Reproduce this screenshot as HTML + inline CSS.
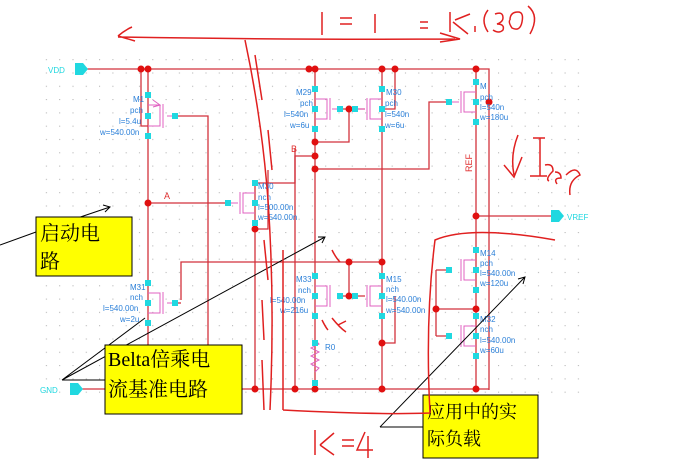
<!DOCTYPE html>
<html><head><meta charset="utf-8"><style>
html,body{margin:0;padding:0;background:#fff;width:683px;height:470px;overflow:hidden}
svg{display:block}
.t{font-family:"Liberation Sans",sans-serif;font-size:8px;fill:#2a7fd8}
.c{font-family:"Liberation Serif","Noto Serif CJK SC",serif;font-size:20px;fill:#000}
.h{font-family:"Liberation Sans",sans-serif;fill:none;stroke:#e02020;stroke-width:1.5}
</style></head><body>
<svg width="683" height="470" viewBox="0 0 683 470" xmlns="http://www.w3.org/2000/svg">
<defs><pattern id="g" width="13.3" height="13.3" patternUnits="userSpaceOnUse"><rect x="6" y="6" width="1" height="1" fill="#aaa"/></pattern></defs>
<rect x="40" y="55" width="550" height="345" fill="url(#g)"/>
<g stroke="#d2323c" stroke-width="1.3" fill="none">
<path d="M87 69H489V390"/><path d="M80 389H489"/>
<path d="M141 69V126H148M148 69V390"/>
<path d="M175 116H208V350"/>
<path d="M148 203H228"/>
<path d="M255 183V229H268V170M295 148V183H255"/>
<path d="M255 229V389"/>
<path d="M315 69V390M382 69V390M395 69V109H382"/>
<path d="M315 156H295V389"/>
<path d="M315 142H349V109H365M340 109H349"/>
<path d="M315 169H429V102H449"/>
<path d="M476 69V390M476 216H553"/>
<path d="M181 300V262H382M349 262V296H365M340 296H349"/>
<path d="M175 303H181"/>
<path d="M436 270V336M436 309H476M436 270H449M436 336H449"/>
<path d="M395 296V343H382"/>
</g>
<g stroke="#e060c0" stroke-width="1" fill="none">
<path d="M148 105H160V126H148M163 104V128M167 116H175M153 100l7 5-7 2"/>
<path d="M255 193H243V213H255M240 192V214M228 203H238"/>
<path d="M315 99H327V119H315M330 98V120M340 109H332"/>
<path d="M382 99H370V119H382M367 98V120M349 109H365"/>
<path d="M476 92H464V112H476M461 91V113M449 102H459"/>
<path d="M148 293H160V313H148M163 292V314M167 303H175"/>
<path d="M315 286H327V306H315M330 285V307"/>
<path d="M382 286H370V306H382M367 285V307"/>
<path d="M476 260H464V280H476M461 259V281"/>
<path d="M476 326H464V346H476M461 325V347"/>
<path d="M315 340l4 4-8 4 8 4-8 4 8 4-8 4 8 4-4 4"/>
</g>
<g fill="#e01010">
<circle cx="141" cy="69" r="3.5"/><circle cx="148" cy="69" r="3.5"/><circle cx="309" cy="69" r="3.5"/><circle cx="315" cy="69" r="3.5"/><circle cx="382" cy="69" r="3.5"/><circle cx="395" cy="69" r="3.5"/><circle cx="476" cy="69" r="3.5"/>
<circle cx="148" cy="203" r="3.5"/><circle cx="255" cy="229" r="3.5"/><circle cx="315" cy="142" r="3.5"/><circle cx="315" cy="156" r="3.5"/><circle cx="315" cy="169" r="3.5"/><circle cx="349" cy="109" r="3.5"/><circle cx="489" cy="102" r="3.5"/><circle cx="476" cy="216" r="3.5"/>
<circle cx="255" cy="389" r="3.5"/><circle cx="295" cy="389" r="3.5"/><circle cx="315" cy="389" r="3.5"/><circle cx="382" cy="389" r="3.5"/><circle cx="476" cy="389" r="3.5"/>
<circle cx="349" cy="262" r="3.5"/><circle cx="382" cy="262" r="3.5"/><circle cx="349" cy="296" r="3.5"/><circle cx="382" cy="343" r="3.5"/><circle cx="436" cy="309" r="3.5"/><circle cx="476" cy="309" r="3.5"/>
</g>
<g fill="#20d8e0">
<path d="M75 63h8l5 6-5 6h-8z"/><path d="M70 383h8l5 6-5 6h-8z"/><path d="M551 210h8l5 6-5 6h-8z"/>
<rect x="145" y="92" width="6" height="6"/><rect x="145" y="113" width="6" height="6"/><rect x="145" y="133" width="6" height="6"/><rect x="172" y="113" width="6" height="6"/>
<rect x="252" y="180" width="6" height="6"/><rect x="252" y="200" width="6" height="6"/><rect x="252" y="220" width="6" height="6"/><rect x="225" y="200" width="6" height="6"/>
<rect x="312" y="86" width="6" height="6"/><rect x="312" y="106" width="6" height="6"/><rect x="312" y="126" width="6" height="6"/><rect x="337" y="106" width="6" height="6"/>
<rect x="379" y="86" width="6" height="6"/><rect x="379" y="106" width="6" height="6"/><rect x="379" y="126" width="6" height="6"/><rect x="352" y="106" width="6" height="6"/>
<rect x="473" y="79" width="6" height="6"/><rect x="473" y="99" width="6" height="6"/><rect x="473" y="119" width="6" height="6"/><rect x="446" y="99" width="6" height="6"/>
<rect x="145" y="280" width="6" height="6"/><rect x="145" y="300" width="6" height="6"/><rect x="145" y="320" width="6" height="6"/><rect x="172" y="300" width="6" height="6"/>
<rect x="312" y="273" width="6" height="6"/><rect x="312" y="293" width="6" height="6"/><rect x="312" y="313" width="6" height="6"/><rect x="312" y="340" width="6" height="6"/><rect x="312" y="380" width="6" height="6"/><rect x="337" y="293" width="6" height="6"/>
<rect x="379" y="273" width="6" height="6"/><rect x="379" y="293" width="6" height="6"/><rect x="379" y="313" width="6" height="6"/><rect x="352" y="293" width="6" height="6"/>
<rect x="473" y="247" width="6" height="6"/><rect x="473" y="267" width="6" height="6"/><rect x="473" y="287" width="6" height="6"/><rect x="446" y="267" width="6" height="6"/>
<rect x="473" y="313" width="6" height="6"/><rect x="473" y="333" width="6" height="6"/><rect x="473" y="353" width="6" height="6"/><rect x="446" y="333" width="6" height="6"/>
</g>
<g class="t">
<text x="48" y="73" style="fill:#20d8e0">VDD</text><text x="40" y="393" style="fill:#20d8e0">GND</text><text x="567" y="220" style="fill:#20d8e0">VREF</text>
<text x="133" y="102">M1</text><text x="130" y="113">pch</text><text x="119" y="124">l=5.4u</text><text x="100" y="135">w=540.00n</text>
<text x="258" y="189">M30</text><text x="258" y="200">nch</text><text x="258" y="210">l=500.00n</text><text x="258" y="220">w=540.00n</text>
<text x="296" y="95">M29</text><text x="300" y="106">pch</text><text x="284" y="117">l=540n</text><text x="290" y="128">w=6u</text>
<text x="386" y="95">M30</text><text x="385" y="106">pch</text><text x="385" y="117">l=540n</text><text x="385" y="128">w=6u</text>
<text x="480" y="89">M</text><text x="480" y="100">pch</text><text x="480" y="110">l=540n</text><text x="480" y="120">w=180u</text>
<text x="130" y="290">M31</text><text x="130" y="300">nch</text><text x="103" y="311">l=540.00n</text><text x="120" y="322">w=2u</text>
<text x="296" y="282">M33</text><text x="298" y="293">nch</text><text x="270" y="303">l=540.00n</text><text x="280" y="313">w=216u</text><text x="325" y="350">R0</text>
<text x="386" y="282">M15</text><text x="386" y="292">nch</text><text x="386" y="302">l=540.00n</text><text x="386" y="313">w=540.00n</text>
<text x="480" y="256">M14</text><text x="480" y="266">pch</text><text x="480" y="276">l=540.00n</text><text x="480" y="286">w=120u</text>
<text x="480" y="322">M32</text><text x="480" y="332">nch</text><text x="480" y="343">l=540.00n</text><text x="480" y="353">w=60u</text>
</g>
<text x="164" y="199" font-family="Liberation Sans" font-size="9" fill="#e03030">A</text>
<text x="291" y="152" font-family="Liberation Sans" font-size="9" fill="#e03030">B</text>
<text x="0" y="0" font-family="Liberation Sans" font-size="9" fill="#e03030" transform="translate(472,172) rotate(-90)">REF</text>
<g stroke="#000" stroke-width="1" fill="none">
<path d="M0 245L36 232"/><path d="M36 232L110 207M103 205l7 2-5 5"/>
<path d="M62 380L325 237M318 237l7 0-3 6M62 380L145 318M62 380H105"/>
<path d="M380 427L525 277M518 279l7-2-2 7M380 427H423"/>
</g>
<rect x="36" y="217" width="96" height="59" fill="#ffff00" stroke="#000"/>
<text class="c" x="40" y="240">启动电</text><text class="c" x="40" y="268">路</text>
<rect x="105" y="345" width="137" height="69" fill="#ffff00" stroke="#000"/>
<text class="c" x="108" y="366">Belta倍乘电</text><text class="c" x="108" y="396">流基准电路</text>
<rect x="423" y="395" width="115" height="63" fill="#ffff00" stroke="#000"/>
<text class="c" x="427" y="418" style="font-size:18px">应用中的实</text><text class="c" x="427" y="445" style="font-size:18px">际负载</text>
<g class="h">
<path d="M118 36Q125 30 132 27M118 36Q125 38 135 41M118 37Q300 40 455 39M440 33l20 6-20 3"/>
<path d="M322 12V35M340 18H352M340 24H352M375 14V33M420 22h8M420 28h8"/>
<path d="M450 12V32M455 20L470 14M453 22L468 34M475 26v6"/>
<path d="M488 10Q480 20 488 32M495 14q8-3 8 4q0 4-6 6q8 0 6 6q-4 4-10 0M510 20q0-8 8-8q6 0 4 10q-2 10-10 6q-4-6-2-8"/>
<path d="M528 6q12 10 2 28"/>
<path d="M245 40Q262 120 268 200Q275 300 270 410M255 55L262 100M268 130L272 170M264 240L268 280M262 300L264 340M262 360L264 410"/>
<path d="M283 250V410M283 410Q380 415 430 413M430 413Q425 320 435 240Q470 225 555 240"/>
<path d="M518 135q-8 20-4 40M504 165l10 12 8-20M533 138H545M540 138V176M530 176H547M545 165q8-2 8 6q-8 8-4 10M555 172q6 0 6 6q-8 0-4 6M566 175q10-10 14 0q-12 6-10 20"/>
<path d="M332 250q4 8 8 12M322 320q4 8 6 10M332 318q8 10 14 14M338 325l8-4"/>
<path d="M315 430v25M320 445l14-12M320 445l14 10M342 440h12M342 446h12M365 432l-8 18h16M368 436v22"/>
</g>
</svg>
</body></html>
